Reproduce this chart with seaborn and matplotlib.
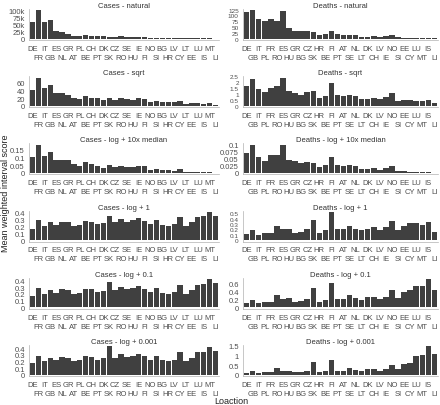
import numpy as np
import pandas as pd
import matplotlib
matplotlib.use("Agg")
import matplotlib.pyplot as plt
from matplotlib.ticker import FuncFormatter
import seaborn as sns

sns.set_style("white")
plt.rcParams['font.family'] = ['Liberation Sans', 'DejaVu Sans']

# location order per target (facets use free x scales)
case_locs = ["DE", "FR", "IT", "GB", "ES", "NL", "GR", "AT", "PL", "BE", "CH", "PT",
             "DK", "SK", "CZ", "RO", "SE", "HU", "IE", "FI", "NO", "SI", "BG", "HR",
             "LV", "CY", "LT", "EE", "LU", "IS", "MT", "LI"]
death_locs = ["DE", "GB", "IT", "PL", "FR", "RO", "ES", "HU", "GR", "BG", "CZ", "SK",
              "HR", "BE", "FI", "PT", "AT", "SE", "NL", "LT", "DK", "CH", "LV", "IE",
              "NO", "SI", "EE", "CY", "LU", "MT", "IS", "LI"]

# mean weighted interval score
cases_natural = [60000, 100000, 58000, 65000, 28000, 25000, 18000, 10000, 9000, 13000, 9000, 8000,
                 8000, 6000, 5000, 8000, 6000, 5000, 5000, 4000, 3000, 3000, 3000, 2000,
                 2000, 1500, 1000, 1000, 800, 500, 400, 200]
cases_sqrt = [42, 73, 46, 55, 32, 32, 29, 20, 17, 26, 20, 19,
              16, 20, 15, 20, 17, 15, 19, 17, 10, 13, 9, 9,
              9, 13, 5, 6, 6, 5, 6, 2]
cases_log10med = [0.10, 0.18, 0.11, 0.135, 0.085, 0.08, 0.085, 0.055, 0.045, 0.068, 0.055, 0.045,
                  0.035, 0.048, 0.04, 0.047, 0.038, 0.038, 0.042, 0.042, 0.022, 0.027, 0.02, 0.018,
                  0.015, 0.023, 0.008, 0.009, 0.007, 0.005, 0.005, 0.002]
cases_log1 = [0.17, 0.29, 0.20, 0.26, 0.22, 0.27, 0.26, 0.20, 0.22, 0.28, 0.27, 0.23,
              0.25, 0.35, 0.26, 0.31, 0.27, 0.29, 0.32, 0.28, 0.23, 0.29, 0.22, 0.20,
              0.23, 0.34, 0.20, 0.26, 0.34, 0.35, 0.41, 0.35]
cases_log01 = [0.17, 0.29, 0.20, 0.26, 0.22, 0.27, 0.26, 0.20, 0.22, 0.28, 0.27, 0.23,
               0.25, 0.38, 0.26, 0.31, 0.27, 0.29, 0.32, 0.28, 0.23, 0.29, 0.22, 0.20,
               0.23, 0.34, 0.20, 0.26, 0.34, 0.35, 0.42, 0.36]
cases_log0001 = [0.17, 0.29, 0.20, 0.26, 0.22, 0.27, 0.26, 0.20, 0.22, 0.28, 0.27, 0.23,
                 0.25, 0.43, 0.26, 0.31, 0.27, 0.29, 0.32, 0.28, 0.23, 0.29, 0.22, 0.20,
                 0.23, 0.34, 0.20, 0.26, 0.34, 0.35, 0.42, 0.36]

deaths_natural = [115, 122, 85, 77, 85, 77, 120, 48, 35, 35, 35, 30,
                  17, 20, 35, 18, 17, 17, 17, 8, 9, 10, 7, 10,
                  15, 5, 4, 3, 2, 1, 1, 0.5]
deaths_sqrt = [1.7, 2.3, 1.4, 1.2, 1.5, 1.7, 2.4, 1.3, 1.05, 0.95, 1.15, 1.25,
               0.65, 0.85, 1.9, 0.95, 0.85, 0.95, 0.85, 0.55, 0.6, 0.7, 0.55, 0.75,
               1.05, 0.45, 0.5, 0.5, 0.45, 0.4, 0.5, 0.2]
deaths_log10med = [0.07, 0.097, 0.055, 0.04, 0.062, 0.062, 0.098, 0.045, 0.04, 0.034, 0.038, 0.036,
                   0.02, 0.028, 0.056, 0.028, 0.024, 0.027, 0.024, 0.014, 0.015, 0.017, 0.012, 0.018,
                   0.024, 0.007, 0.007, 0.005, 0.003, 0.002, 0.003, 0.001]
deaths_log1 = [0.12, 0.19, 0.10, 0.13, 0.13, 0.27, 0.21, 0.21, 0.13, 0.15, 0.21, 0.38,
               0.13, 0.18, 0.52, 0.21, 0.21, 0.27, 0.21, 0.18, 0.21, 0.25, 0.19, 0.25,
               0.35, 0.19, 0.26, 0.32, 0.31, 0.28, 0.34, 0.15]
deaths_log01 = [0.11, 0.18, 0.10, 0.13, 0.13, 0.30, 0.21, 0.23, 0.13, 0.15, 0.22, 0.49,
                0.14, 0.18, 0.61, 0.22, 0.21, 0.30, 0.23, 0.19, 0.25, 0.27, 0.20, 0.25,
                0.42, 0.23, 0.37, 0.44, 0.54, 0.52, 0.70, 0.43]
deaths_log0001 = [0.10, 0.17, 0.09, 0.12, 0.12, 0.35, 0.21, 0.21, 0.12, 0.14, 0.21, 0.68,
                  0.13, 0.17, 0.78, 0.21, 0.21, 0.34, 0.22, 0.20, 0.27, 0.28, 0.20, 0.27,
                  0.52, 0.28, 0.55, 0.58, 0.95, 1.02, 1.47, 1.08]

panels = [
    ("Cases - natural", case_locs, cases_natural, [0, 25000, 50000, 75000, 100000], True),
    ("Deaths - natural", death_locs, deaths_natural, [0, 25, 50, 75, 100, 125], False),
    ("Cases - sqrt", case_locs, cases_sqrt, [0, 20, 40, 60], False),
    ("Deaths - sqrt", death_locs, deaths_sqrt, [0, 0.5, 1, 1.5, 2, 2.5], False),
    ("Cases - log + 10x median", case_locs, cases_log10med, [0, 0.05, 0.1, 0.15], False),
    ("Deaths - log + 10x median", death_locs, deaths_log10med, [0, 0.025, 0.05, 0.075, 0.1], False),
    ("Cases - log + 1", case_locs, cases_log1, [0, 0.1, 0.2, 0.3, 0.4], False),
    ("Deaths - log + 1", death_locs, deaths_log1, [0, 0.1, 0.2, 0.3, 0.4, 0.5], False),
    ("Cases - log + 0.1", case_locs, cases_log01, [0, 0.1, 0.2, 0.3, 0.4], False),
    ("Deaths - log + 0.1", death_locs, deaths_log01, [0, 0.2, 0.4, 0.6], False),
    ("Cases - log + 0.001", case_locs, cases_log0001, [0, 0.1, 0.2, 0.3, 0.4], False),
    ("Deaths - log + 0.001", death_locs, deaths_log0001, [0, 0.5, 1, 1.5], False),
]

W, H = 440, 406
fig = plt.figure(figsize=(W / 100, H / 100), dpi=100)
col_x = [(29, 219), (243, 438)]
txt_col = "#4d4d4d"
axis_col = "#b0b0b0"

for i, (title, locs, vals, yticks, thousands) in enumerate(panels):
    row, col = divmod(i, 2)
    x0, x1 = col_x[col]
    ytop = 10 + 67.2 * row
    ybot = 41 + 67.2 * row
    ax = fig.add_axes([x0 / W, 1 - ybot / H, (x1 - x0) / W, (ybot - ytop) / H])
    df = pd.DataFrame({"location": locs, "score": vals})
    sns.barplot(data=df, x="location", y="score", order=locs, color="#404040",
                saturation=1, width=0.9, edgecolor="none", ax=ax)
    ymax = max(vals)
    ax.set_ylim(-0.05 * ymax, 1.05 * ymax)
    ax.set_xlim(-0.6, len(locs) - 0.4)
    ax.set_yticks(yticks)
    if thousands:
        ax.yaxis.set_major_formatter(FuncFormatter(lambda v, p: "0" if v == 0 else f"{v / 1000:g}k"))
    else:
        ax.yaxis.set_major_formatter(FuncFormatter(lambda v, p: f"{v:g}"))
    ax.set_xticks(range(len(locs)))
    ax.set_xticklabels(locs)
    ax.tick_params(axis="both", labelsize=5.5, colors=txt_col, length=2, width=0.5,
                   color=axis_col, pad=1.5)
    # crowded y axes get a slightly smaller label
    ax.tick_params(axis="y", pad=1, labelsize=5.5 if len(yticks) < 6 else 4.6)
    # dodge every other location label onto a second line
    for k, t in enumerate(ax.xaxis.get_major_ticks()):
        if k % 2 == 1:
            t.set_pad(8.0)
    ax.set_xlabel("")
    ax.set_ylabel("")
    ax.set_title(title, fontsize=5.5, color="#333333", pad=1.5)
    for s in ["top", "right"]:
        ax.spines[s].set_visible(False)
    for s in ["left", "bottom"]:
        ax.spines[s].set_color(axis_col)
        ax.spines[s].set_linewidth(0.5)
    ax.grid(False)

fig.text(5.5 / W, 1 - 193 / H, "Mean weighted interval score", rotation=90, ha="center", va="center",
         fontsize=6.5, color="#222222")
fig.text(231 / W, 1 - 401.5 / H, "Loaction", ha="center", va="center", fontsize=6.5, color="#222222")

fig.savefig("out.png", dpi=100)
